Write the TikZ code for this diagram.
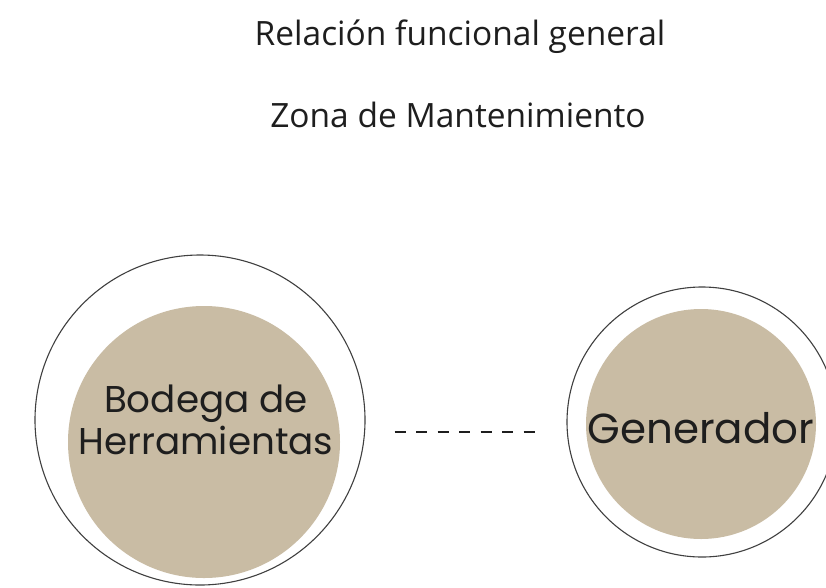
\documentclass[tikz,border=0pt]{standalone}
\usepackage{fontspec}
\setmainfont{Open Sans}
\newfontfamily\roundfont{Poppins}
\definecolor{arena}{RGB}{201,188,164}
\definecolor{tinta}{RGB}{30,30,30}
\begin{document}
\begin{tikzpicture}[x=1pt, y=-1pt,
  anillo/.style={circle, draw=black!75, line width=1.1pt, inner sep=0pt},
  zona/.style={circle, fill=arena, inner sep=0pt},
  rotulo/.style={text=tinta, align=center, inner sep=0pt},
  titulo/.style={font=\fontsize{33.5}{36}\selectfont, text=tinta}]
\clip (0,0) rectangle (826,587);
\fill[white] (0,0) rectangle (826,587);
% Titulos
\node[titulo] (tit1) at (460,37) {Relación funcional general};
\node[titulo] (tit2) at (458,115) {Zona de Mantenimiento};
% Bodega
\node[anillo, minimum size=330pt] (bodegaring) at (200,420) {};
\node[zona, minimum size=272pt] (bodega) at (204,442) {};
\node[rotulo, font=\roundfont\fontsize{37.3}{42}\selectfont] (bodegatxt) at (206,420) {Bodega de\\Herramientas};
% Generador
\node[anillo, minimum size=270pt] (genring) at (702,422) {};
\node[zona, minimum size=230pt] (gen) at (701,424) {};
\node[rotulo, font=\roundfont\fontsize{42}{46}\selectfont] (gentxt) at (701,428) {Generador};
% Relacion
\draw[line width=2.4pt, tinta, dash pattern=on 11pt off 10.5pt, shorten <=29pt, shorten >=30pt]
  (bodegaring.east |- 0,432) -- (genring.west |- 0,432);
\end{tikzpicture}
\end{document}
